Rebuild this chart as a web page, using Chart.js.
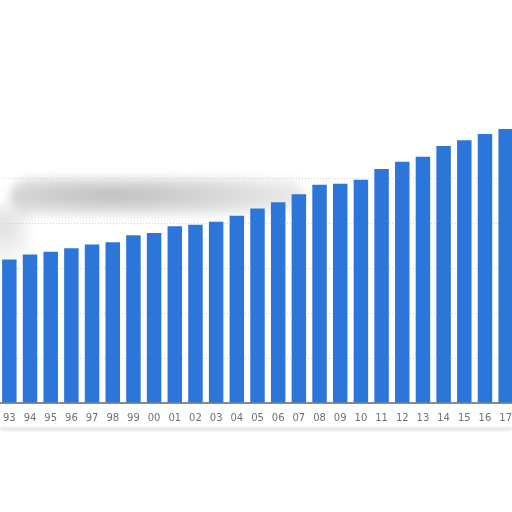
<!DOCTYPE html>
<html>
<head>
<meta charset="utf-8">
<script src="https://cdn.jsdelivr.net/npm/chart.js@4.4.1/dist/chart.umd.min.js"></script>
<style>
  html, body { margin: 0; padding: 0; background: #fff; width: 512px; height: 512px; overflow: hidden; }
  #wrap { position: absolute; left: -1px; top: 0; width: 517px; height: 425px; z-index: 2; }
  #blob { position: absolute; left: 10px; top: 178px; width: 295px; height: 38px; border-radius: 22px;
          background: radial-gradient(ellipse at 35% 45%, rgba(160,160,160,0.7), rgba(195,195,195,0.45) 60%, rgba(225,225,225,0) 100%);
          filter: blur(5px); z-index: 1; }
  #blob2 { position: absolute; left: -10px; top: 205px; width: 40px; height: 55px;
          background: radial-gradient(ellipse at 30% 40%, rgba(195,195,195,0.55), rgba(230,230,230,0) 100%);
          filter: blur(6px); z-index: 1; }
  #edge { position: absolute; left: 0; top: 428px; width: 512px; height: 2px; background: rgba(175,175,175,0.55);
          filter: blur(1.5px); z-index: 1; }
</style>
</head>
<body>
<div id="blob"></div>
<div id="blob2"></div>
<div id="edge"></div>
<div id="wrap"><canvas id="c"></canvas></div>
<script>
const categories = ["93","94","95","96","97","98","99","00","01","02","03","04","05","06","07","08","09","10","11","12","13","14","15","16","17"];
const values = [31.9,33.0,33.6,34.4,35.2,35.7,37.3,37.8,39.3,39.6,40.3,41.6,43.2,44.6,46.4,48.5,48.7,49.6,52.0,53.6,54.7,57.1,58.4,59.8,60.9];
const yMin = 0, yMax = 70, yStep = 10;

new Chart(document.getElementById('c'), {
  type: 'bar',
  data: {
    labels: categories,
    datasets: [{
      data: values,
      backgroundColor: '#2c76da',
      borderWidth: 0,
      barPercentage: 0.7,
      categoryPercentage: 1.0
    }]
  },
  options: {
    responsive: true,
    maintainAspectRatio: false,
    animation: false,
    layout: { padding: { top: 88, left: 0, right: 0, bottom: 0 } },
    plugins: { legend: { display: false }, tooltip: { enabled: false } },
    scales: {
      x: {
        grid: { display: false },
        border: { display: true, color: '#8a8a8a', width: 2 },
        ticks: { color: '#707070', font: { family: 'DejaVu Sans', size: 10 }, padding: 1, maxRotation: 0, autoSkip: false }
      },
      y: {
        display: true,
        min: yMin, max: yMax,
        ticks: { display: false, stepSize: yStep },
        border: { display: false, dash: [1, 2] },
        grid: {
          drawTicks: false,
          color: (ctx) => (ctx.tick && ctx.tick.value > 0 && ctx.tick.value <= 50) ? 'rgba(200,205,215,0.9)' : 'rgba(0,0,0,0)',
          lineWidth: 1
        },
        afterFit: (s) => { s.width = 0; }
      }
    }
  }
});
</script>
</body>
</html>
